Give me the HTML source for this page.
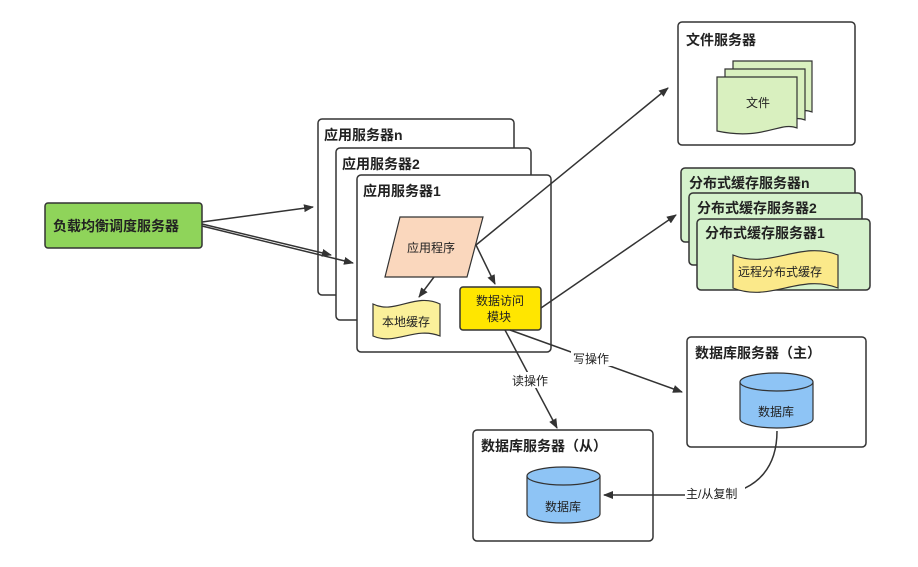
<!DOCTYPE html>
<html><head><meta charset="utf-8"><style>
html,body{margin:0;padding:0;background:#fff;}
svg{display:block;}
text{font-family:"Liberation Sans","Noto Sans CJK SC",sans-serif;fill:#222;}
.b{font-weight:bold;font-size:14px;}
.n{font-size:12px;}
</style></head><body>
<svg width="918" height="567" viewBox="0 0 918 567" xmlns="http://www.w3.org/2000/svg">
<defs>
<marker id="a" markerWidth="10" markerHeight="10" refX="9" refY="5" orient="auto" markerUnits="userSpaceOnUse">
<path d="M0,1 L10,5 L0,9 z" fill="#333"/></marker>
</defs>
<g stroke="#333" stroke-width="1.5">
<!-- app servers -->
<rect x="318" y="119" width="196" height="176" rx="4" fill="#fff"/>
<rect x="336" y="148" width="195" height="172" rx="4" fill="#fff"/>
<rect x="357" y="175" width="194" height="177" rx="4" fill="#fff"/>
<!-- file server -->
<rect x="678" y="22" width="177" height="123" rx="4" fill="#fff"/>
<!-- cache servers -->
<rect x="681" y="168" width="174" height="74" rx="4" fill="#d5f2cc"/>
<rect x="689" y="193" width="173" height="72" rx="4" fill="#d5f2cc"/>
<rect x="697" y="219" width="173" height="71" rx="4" fill="#d5f2cc"/>
<!-- db servers -->
<rect x="687" y="337" width="179" height="110" rx="4" fill="#fff"/>
<rect x="473" y="430" width="180" height="111" rx="4" fill="#fff"/>
<!-- LB -->
<rect x="45" y="203" width="157" height="45" rx="3" fill="#8fd45a"/>
</g>
<text class="b" x="324" y="140">应用服务器n</text>
<text class="b" x="342" y="169">应用服务器2</text>
<text class="b" x="363" y="196">应用服务器1</text>
<text class="b" x="686" y="45">文件服务器</text>
<text class="b" x="689" y="188">分布式缓存服务器n</text>
<text class="b" x="697" y="213">分布式缓存服务器2</text>
<text class="b" x="705" y="238">分布式缓存服务器1</text>
<text class="b" x="695" y="358">数据库服务器（主）</text>
<text class="b" x="481" y="451">数据库服务器（从）</text>
<text class="b" x="53" y="231" font-size="13">负载均衡调度服务器</text>
<g stroke="#333" stroke-width="1.2">
<!-- file stack -->
<path d="M733,61 H812 V112 C795,105 780,125 733,115 Z" fill="#d9f0bf"/>
<path d="M725,69 H805 V120 C788,113 772,133 725,123 Z" fill="#d9f0bf"/>
<path d="M717,77 H797 V128 C780,121 764,141 717,131 Z" fill="#d9f0bf"/>
<!-- remote cache -->
<path d="M733,255 C770,270 800,240 838,255 V288 C800,273 770,303 733,288 Z" fill="#fbe98a"/>
<!-- parallelogram -->
<path d="M400,217 H483 L467,277 H385 Z" fill="#fad7bd"/>
<!-- local cache -->
<path d="M373,304 C395,315 415,292 440,304 V336 C415,326 395,346 373,336 Z" fill="#fbf09a"/>
<!-- data module -->
<rect x="460" y="287" width="81" height="43" rx="3" fill="#ffe600" stroke-width="1.5"/>
<!-- cylinders -->
<path d="M740,382 V419 A36.5,9 0 0 0 813,419 V382" fill="#8ec4f5"/>
<ellipse cx="776.5" cy="382" rx="36.5" ry="9" fill="#8ec4f5"/>
<path d="M527,476 V514 A36.5,9 0 0 0 600,514 V476" fill="#8ec4f5"/>
<ellipse cx="563.5" cy="476" rx="36.5" ry="9" fill="#8ec4f5"/>
</g>
<text class="n" x="746" y="107">文件</text>
<text class="n" x="738" y="276">远程分布式缓存</text>
<text class="n" x="407" y="252">应用程序</text>
<text class="n" x="382" y="326">本地缓存</text>
<text class="n" x="476" y="305">数据访问</text>
<text class="n" x="487" y="321">模块</text>
<text class="n" x="758" y="416">数据库</text>
<text class="n" x="545" y="511">数据库</text>
<g stroke="#333" stroke-width="1.5" fill="none" marker-end="url(#a)">
<line x1="202" y1="222" x2="313" y2="207"/>
<line x1="202" y1="224" x2="331" y2="255"/>
<line x1="202" y1="226" x2="353" y2="263"/>
<line x1="476" y1="245" x2="668" y2="88"/>
<line x1="476" y1="245" x2="495" y2="284"/>
<line x1="434" y1="277" x2="419" y2="297"/>
<line x1="541" y1="308" x2="676" y2="215"/>
<line x1="505" y1="330" x2="557" y2="428"/>
<path d="M510,330 L682,392"/>
<path d="M777,431 C777,465 760,490 720,495 L604,495"/>
</g>
<rect x="571" y="350" width="46" height="16" fill="#fff"/>
<text class="n" x="573" y="363">写操作</text>
<rect x="511" y="372" width="46" height="16" fill="#fff"/>
<text class="n" x="512" y="385">读操作</text>
<rect x="685" y="486" width="60" height="16" fill="#fff"/>
<text class="n" x="686" y="498">主/从复制</text>
</svg>
</body></html>
